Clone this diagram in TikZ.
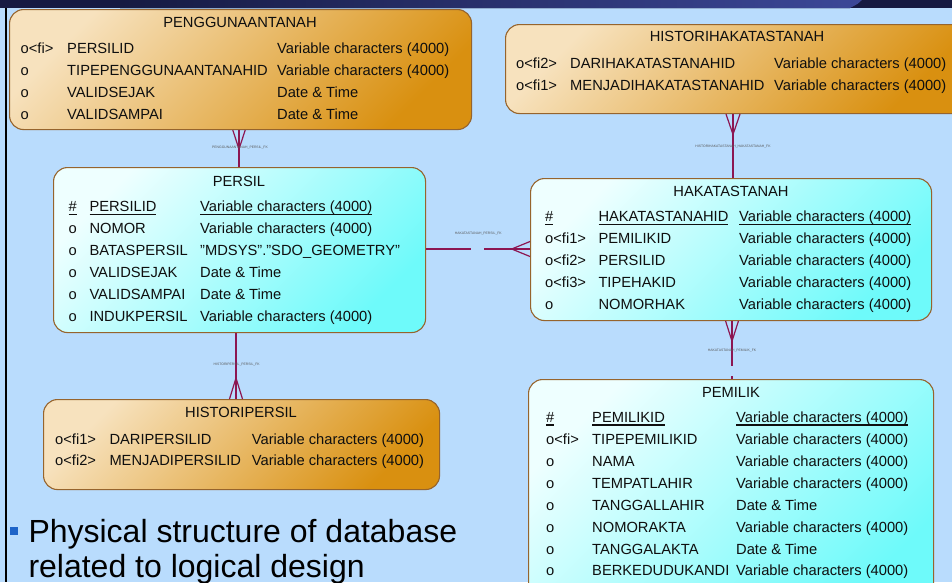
\documentclass[tikz,border=0pt]{standalone}
\usepackage{fontspec}
\setmainfont{Liberation Sans}
\definecolor{bgblue}{RGB}{185,220,253}
\definecolor{navy}{RGB}{22,26,66}
\definecolor{bandlight}{RGB}{60,72,152}
\definecolor{orLight}{RGB}{247,226,190}
\definecolor{orDark}{RGB}{217,144,16}
\definecolor{cyLight}{RGB}{238,255,255}
\definecolor{cyDark}{RGB}{110,250,250}
\definecolor{boxedge}{RGB}{150,100,45}
\definecolor{relcol}{RGB}{140,22,82}
\definecolor{bulletblue}{RGB}{30,100,200}
\definecolor{txt}{RGB}{15,15,15}
% straight double quote
\newcommand\dq{\symbol{34}}
% underlined key column
\newcommand\ukey[1]{\setbox0=\hbox{#1}\rlap{\rule[-3.3pt]{\wd0}{1.4pt}}\box0}
% one row of an entity: id, baseline, x of the three columns, the three texts
\newcommand\entrow[8]{%
  \node[cell] (#1a) at (#3,#2) {#6};
  \node[cell] (#1b) at (#4,#2) {#7};
  \node[cell] (#1c) at (#5,#2) {#8};}
\begin{document}
\begin{tikzpicture}[x=1pt,y=-1pt,
  orangebox/.style={draw=boxedge, line width=1.1pt, rounded corners=14pt,
    top color=orLight, bottom color=orDark, shading angle=45,
    anchor=north west, inner sep=0pt},
  cyanbox/.style={draw=boxedge, line width=1.1pt, rounded corners=14pt,
    top color=cyLight, bottom color=cyDark, shading angle=45,
    anchor=north west, inner sep=0pt},
  cell/.style={anchor=base west, inner sep=0pt, text=txt,
    font=\fontsize{14.7}{16}\selectfont},
  ttl/.style={anchor=base, inner sep=0pt, text=txt,
    font=\fontsize{14.7}{16}\selectfont},
  rel/.style={draw=relcol, line width=1.2pt},
  rlabel/.style={inner sep=0pt, text=black!65, font=\fontsize{3.4}{4}\selectfont},
  bigtext/.style={anchor=base west, inner sep=0pt, text=black,
    font=\fontsize{32}{36}\selectfont}]

\useasboundingbox (0,0) rectangle (952,582);
\clip (0,0) rectangle (952,582);

% slide background
\fill[bgblue] (0,0) rectangle (952,582);
\fill[navy] (0,0) rectangle (952,8);
\fill[left color=navy, right color=bandlight] (120,0) -- (862,0)
  .. controls (858,4) .. (850,8) -- (120,8) -- cycle;
\fill[black] (5,8) rectangle (7.3,582);

% axes of the connectors
\coordinate (ax1) at (239,0);
\coordinate (ax2) at (733,0);
\coordinate (ax3) at (236,0);
\coordinate (ax4) at (732,0);
\coordinate (ay5) at (0,249);

% entity boxes
\node[orangebox, minimum width=462pt, minimum height=120pt] (pgt) at (9,9) {};
\node[orangebox, minimum width=464pt, minimum height=89pt] (hht) at (505,24) {};
\node[cyanbox, minimum width=372pt, minimum height=165pt] (per) at (53,167) {};
\node[cyanbox, minimum width=401pt, minimum height=142pt] (hak) at (530,178) {};
\node[orangebox, minimum width=396pt, minimum height=90pt] (hpe) at (43,399) {};
\node[cyanbox, minimum width=405pt, minimum height=231pt] (pem) at (528,379) {};

% PENGGUNAANTANAH
\node[ttl] (pgtT) at (240,27) {PENGGUNAANTANAH};
\entrow{pgt1}{53.3}{20.5}{67}{277}{o<fi>}{PERSILID}{Variable characters (4000)}
\entrow{pgt2}{75.2}{20.5}{67}{277}{o}{TIPEPENGGUNAANTANAHID}{Variable characters (4000)}
\entrow{pgt3}{97.1}{20.5}{67}{277}{o}{VALIDSEJAK}{Date \& Time}
\entrow{pgt4}{119.0}{20.5}{67}{277}{o}{VALIDSAMPAI}{Date \& Time}

% HISTORIHAKATASTANAH
\node[ttl] (hhtT) at (737,41.7) {HISTORIHAKATASTANAH};
\entrow{hht1}{68.3}{516}{570}{774}{o<fi2>}{DARIHAKATASTANAHID}{Variable characters (4000)}
\entrow{hht2}{90.2}{516}{570}{774}{o<fi1>}{MENJADIHAKATASTANAHID}{Variable characters (4000)}

% PERSIL
\node[ttl] (perT) at (239,186.7) {PERSIL};
\entrow{per1}{211.7}{68.5}{89.3}{200}{\ukey{\#}}{\ukey{PERSILID}}{\ukey{Variable characters (4000)}}
\entrow{per2}{233.6}{68.5}{89.3}{200}{o}{NOMOR}{Variable characters (4000)}
\entrow{per3}{255.5}{68.5}{89.3}{200}{o}{BATASPERSIL}{\dq MDSYS\dq.\dq SDO\_GEOMETRY\dq}
\entrow{per4}{277.4}{68.5}{89.3}{200}{o}{VALIDSEJAK}{Date \& Time}
\entrow{per5}{299.3}{68.5}{89.3}{200}{o}{VALIDSAMPAI}{Date \& Time}
\entrow{per6}{321.2}{68.5}{89.3}{200}{o}{INDUKPERSIL}{Variable characters (4000)}

% HAKATASTANAH
\node[ttl] (hakT) at (731,196.7) {HAKATASTANAH};
\entrow{hak1}{221.7}{545}{598.3}{739}{\ukey{\#}}{\ukey{HAKATASTANAHID}}{\ukey{Variable characters (4000)}}
\entrow{hak2}{243.6}{545}{598.3}{739}{o<fi1>}{PEMILIKID}{Variable characters (4000)}
\entrow{hak3}{265.5}{545}{598.3}{739}{o<fi2>}{PERSILID}{Variable characters (4000)}
\entrow{hak4}{287.4}{545}{598.3}{739}{o<fi3>}{TIPEHAKID}{Variable characters (4000)}
\entrow{hak5}{309.3}{545}{598.3}{739}{o}{NOMORHAK}{Variable characters (4000)}

% HISTORIPERSIL
\node[ttl] (hpeT) at (241,417.3) {HISTORIPERSIL};
\entrow{hpe1}{444}{55}{109.3}{251.7}{o<fi1>}{DARIPERSILID}{Variable characters (4000)}
\entrow{hpe2}{465.9}{55}{109.3}{251.7}{o<fi2>}{MENJADIPERSILID}{Variable characters (4000)}

% PEMILIK
\node[ttl] (pemT) at (731,397.7) {PEMILIK};
\entrow{pem1}{422.3}{546}{592}{736}{\ukey{\#}}{\ukey{PEMILIKID}}{\ukey{Variable characters (4000)}}
\entrow{pem2}{444.25}{546}{592}{736}{o<fi>}{TIPEPEMILIKID}{Variable characters (4000)}
\entrow{pem3}{466.2}{546}{592}{736}{o}{NAMA}{Variable characters (4000)}
\entrow{pem4}{488.15}{546}{592}{736}{o}{TEMPATLAHIR}{Variable characters (4000)}
\entrow{pem5}{510.1}{546}{592}{736}{o}{TANGGALLAHIR}{Date \& Time}
\entrow{pem6}{532.05}{546}{592}{736}{o}{NOMORAKTA}{Variable characters (4000)}
\entrow{pem7}{554}{546}{592}{736}{o}{TANGGALAKTA}{Date \& Time}
\entrow{pem8}{575.95}{546}{592}{736}{o}{BERKEDUDUKANDI}{Variable characters (4000)}

% references with crow's feet
\draw[rel] (pgt.south -| ax1) -- (per.north -| ax1);
\draw[rel] (pgt.south -| ax1) ++(-6.2,0) -- ++(6.2,19) -- ++(6.2,-19);
\node[rlabel] (l1) at (240,147.3) {PENGGUNAANTANAH\_PERSIL\_FK};

\draw[rel] (hht.south -| ax2) -- (hak.north -| ax2);
\draw[rel] (hht.south -| ax2) ++(-7,0) -- ++(7,20.3) -- ++(7,-20.3);
\node[rlabel] (l2) at (733,146.7) {HISTORIHAKATASTANAH\_HAKATASTANAH\_FK};

\draw[rel] (per.south -| ax3) -- (hpe.north -| ax3);
\draw[rel] (hpe.north -| ax3) ++(-6.5,0) -- ++(6.5,-21) -- ++(6.5,21);
\node[rlabel] (l3) at (236.7,365) {HISTORIPERSIL\_PERSIL\_FK};

\draw[rel] (hak.south -| ax4) -- ++(0,45);
\draw[rel] (pem.north -| ax4) -- ++(0,-3.5);
\draw[rel] (hak.south -| ax4) ++(-6.4,0) -- ++(6.4,20) -- ++(6.4,-20);
\node[rlabel] (l4) at (732,350.7) {HAKATASTANAH\_PEMILIK\_FK};

\draw[rel] (per.east |- ay5) -- ++(45,0);
\draw[rel] (hak.west |- ay5) -- ++(-46,0);
\draw[rel] (hak.west |- ay5) ++(0,-7.5) -- ++(-18.3,7.5) -- ++(18.3,7.5);
\node[rlabel] (l5) at (478.3,233.3) {HAKATASTANAH\_PERSIL\_FK};

% bullet text
\fill[bulletblue] (10,526.5) rectangle (18.3,535);
\node[bigtext] (b1) at (28.3,542) {Physical structure of database};
\node[bigtext] (b2) at (28.3,577) {related to logical design};
\end{tikzpicture}
\end{document}
